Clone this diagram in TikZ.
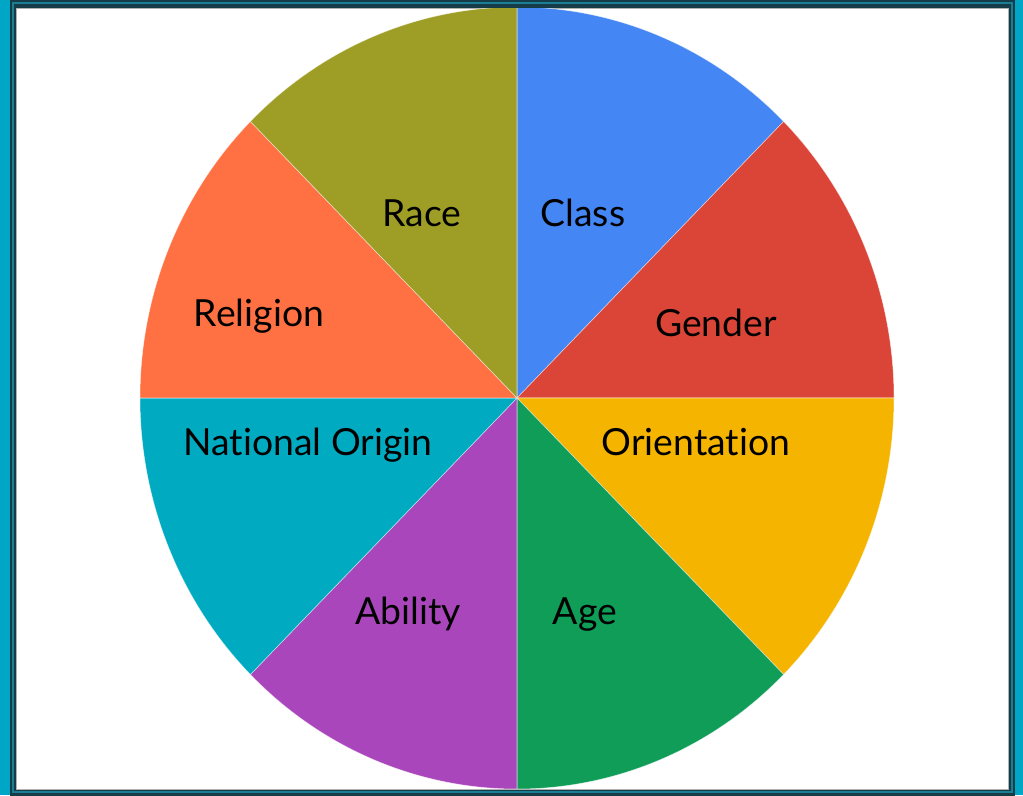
\documentclass[tikz,border=0pt]{standalone}
\usepackage{fontspec}
\setmainfont{Lato}[Ligatures=NoCommon]
\usetikzlibrary{positioning}

\definecolor{framecyan}{HTML}{00A6C6}
\definecolor{framedark}{HTML}{163C48}
\definecolor{framemid}{HTML}{1A7F95}
\definecolor{classc}{HTML}{4486F4}
\definecolor{genderc}{HTML}{DB4538}
\definecolor{orientc}{HTML}{F4B400}
\definecolor{agec}{HTML}{109D58}
\definecolor{abilityc}{HTML}{AA46BB}
\definecolor{nationc}{HTML}{00ABC1}
\definecolor{religionc}{HTML}{FF7043}
\definecolor{racec}{HTML}{9E9E26}

\begin{document}
\begin{tikzpicture}[x=0.75pt, y=0.75pt, every node/.style={font=\fontsize{28}{33}\selectfont, text=black, inner sep=0pt, anchor=base}, slice/.style={draw=white, draw opacity=0.6, line width=0.4pt}]
	\useasboundingbox (0,0) rectangle (1023,795);
	% frame
	\fill[framecyan] (0,0) rectangle (1023,795);
	\fill[framedark] (10,-2) rectangle (1015,797);
	\draw[framemid, line width=1.2pt] (13,3) rectangle (1012,792);
	\fill[white] (16,6) rectangle (1008,787);
	\draw[gray!60, line width=0.6pt] (16,6) rectangle (1008,787);

	\coordinate (c) at (517,397);
	\begin{scope}
		\clip (16,6.5) rectangle (1008,786.5);
		\fill[classc, slice] (c) -- ([shift={(90:282.75pt and 293.25pt)}]c) arc[start angle=90, end angle=45, x radius=282.75pt, y radius=293.25pt] -- cycle;
		\fill[genderc, slice] (c) -- ([shift={(45:282.75pt and 293.25pt)}]c) arc[start angle=45, end angle=0, x radius=282.75pt, y radius=293.25pt] -- cycle;
		\fill[orientc, slice] (c) -- ([shift={(0:282.75pt and 293.25pt)}]c) arc[start angle=0, end angle=-45, x radius=282.75pt, y radius=293.25pt] -- cycle;
		\fill[agec, slice] (c) -- ([shift={(-45:282.75pt and 293.25pt)}]c) arc[start angle=-45, end angle=-90, x radius=282.75pt, y radius=293.25pt] -- cycle;
		\fill[abilityc, slice] (c) -- ([shift={(-90:282.75pt and 293.25pt)}]c) arc[start angle=-90, end angle=-135, x radius=282.75pt, y radius=293.25pt] -- cycle;
		\fill[nationc, slice] (c) -- ([shift={(-135:282.75pt and 293.25pt)}]c) arc[start angle=-135, end angle=-180, x radius=282.75pt, y radius=293.25pt] -- cycle;
		\fill[religionc, slice] (c) -- ([shift={(180:282.75pt and 293.25pt)}]c) arc[start angle=180, end angle=135, x radius=282.75pt, y radius=293.25pt] -- cycle;
		\fill[racec, slice] (c) -- ([shift={(135:282.75pt and 293.25pt)}]c) arc[start angle=135, end angle=90, x radius=282.75pt, y radius=293.25pt] -- cycle;
	\end{scope}

	\node (class) at (583,568) {Class};
	\node (race) at (422,568) {Race};
	\node (gender) at (716,458) {Gender};
	\node (religion) at (259,468) {Religion};
	\node (orient) at (696,339) {Orientation};
	\node (nation) at (308,339) {National Origin};
	\node (age) at (585,170) {Age};
	\node (ability) at (408,170) {Ability};
\end{tikzpicture}
\end{document}
